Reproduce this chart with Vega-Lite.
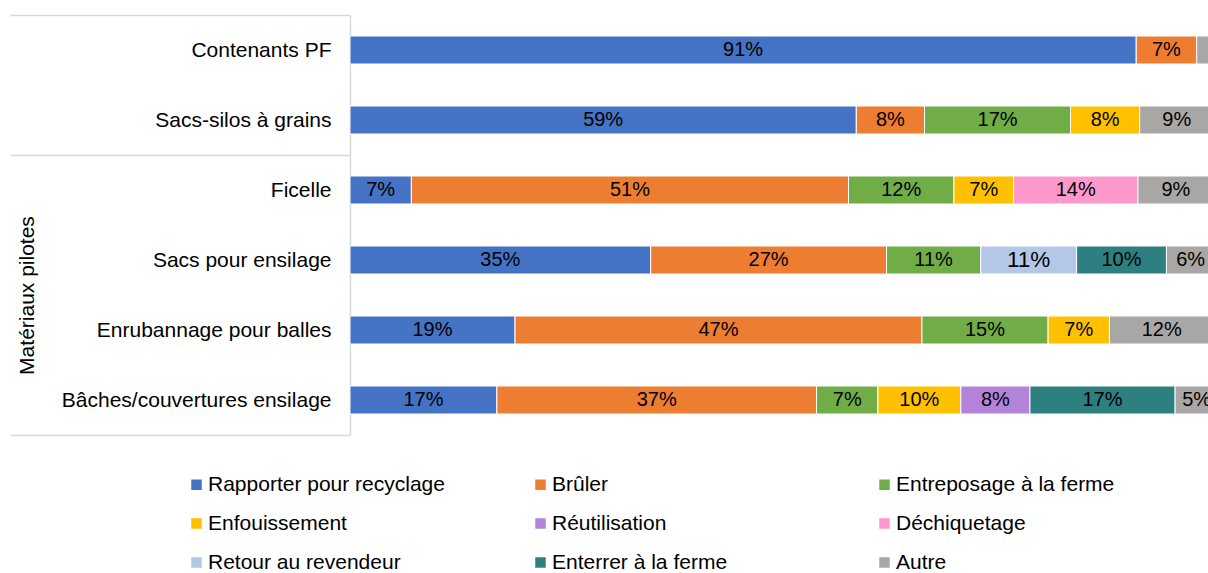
{
  "$schema": "https://vega.github.io/schema/vega-lite/v6.json",
  "autosize": {"type": "none"},
  "padding": {"left": 350, "top": 15, "right": 0, "bottom": 138},
  "width": 858,
  "height": 420,
  "config": {
    "view": {"stroke": null},
    "font": "Liberation Sans"
  },
  "data": {
    "values": [
      {"m": "Contenants PF", "c": "Rapporter pour recyclage", "o": 1, "v": 0.91},
      {"m": "Contenants PF", "c": "Brûler", "o": 2, "v": 0.07},
      {"m": "Contenants PF", "c": "Autre", "o": 9, "v": 0.02},
      {"m": "Sacs-silos à grains ", "c": "Rapporter pour recyclage", "o": 1, "v": 0.586},
      {"m": "Sacs-silos à grains ", "c": "Brûler", "o": 2, "v": 0.079},
      {"m": "Sacs-silos à grains ", "c": "Entreposage à la ferme", "o": 3, "v": 0.169},
      {"m": "Sacs-silos à grains ", "c": "Enfouissement", "o": 4, "v": 0.08},
      {"m": "Sacs-silos à grains ", "c": "Autre", "o": 9, "v": 0.086},
      {"m": "Ficelle", "c": "Rapporter pour recyclage", "o": 1, "v": 0.071},
      {"m": "Ficelle", "c": "Brûler", "o": 2, "v": 0.506},
      {"m": "Ficelle", "c": "Entreposage à la ferme", "o": 3, "v": 0.122},
      {"m": "Ficelle", "c": "Enfouissement", "o": 4, "v": 0.069},
      {"m": "Ficelle", "c": "Déchiquetage", "o": 6, "v": 0.144},
      {"m": "Ficelle", "c": "Autre", "o": 9, "v": 0.088},
      {"m": "Sacs pour ensilage", "c": "Rapporter pour recyclage", "o": 1, "v": 0.348},
      {"m": "Sacs pour ensilage", "c": "Brûler", "o": 2, "v": 0.273},
      {"m": "Sacs pour ensilage", "c": "Entreposage à la ferme", "o": 3, "v": 0.109},
      {"m": "Sacs pour ensilage", "c": "Retour au revendeur", "o": 7, "v": 0.111},
      {"m": "Sacs pour ensilage", "c": "Enterrer à la ferme", "o": 8, "v": 0.104},
      {"m": "Sacs pour ensilage", "c": "Autre", "o": 9, "v": 0.056},
      {"m": "Enrubannage pour balles", "c": "Rapporter pour recyclage", "o": 1, "v": 0.191},
      {"m": "Enrubannage pour balles", "c": "Brûler", "o": 2, "v": 0.471},
      {"m": "Enrubannage pour balles", "c": "Entreposage à la ferme", "o": 3, "v": 0.146},
      {"m": "Enrubannage pour balles", "c": "Enfouissement", "o": 4, "v": 0.071},
      {"m": "Enrubannage pour balles", "c": "Autre", "o": 9, "v": 0.121},
      {"m": "Bâches/couvertures ensilage", "c": "Rapporter pour recyclage", "o": 1, "v": 0.17},
      {"m": "Bâches/couvertures ensilage", "c": "Brûler", "o": 2, "v": 0.37},
      {"m": "Bâches/couvertures ensilage", "c": "Entreposage à la ferme", "o": 3, "v": 0.071},
      {"m": "Bâches/couvertures ensilage", "c": "Enfouissement", "o": 4, "v": 0.096},
      {"m": "Bâches/couvertures ensilage", "c": "Réutilisation", "o": 5, "v": 0.08},
      {"m": "Bâches/couvertures ensilage", "c": "Enterrer à la ferme", "o": 8, "v": 0.168},
      {"m": "Bâches/couvertures ensilage", "c": "Autre", "o": 9, "v": 0.05}
    ]
  },
  "transform": [
    {"stack": "v", "groupby": ["m"], "sort": [{"field": "o", "order": "ascending"}], "as": ["x0", "x1"]},
    {"calculate": "(datum.x0 + datum.x1) / 2", "as": "xm"}
  ],
  "encoding": {
    "y": {
      "field": "m",
      "type": "nominal",
      "sort": ["Contenants PF", "Sacs-silos à grains ", "Ficelle", "Sacs pour ensilage", "Enrubannage pour balles", "Bâches/couvertures ensilage"],
      "scale": {"paddingInner": 0, "paddingOuter": 0},
      "axis": {
        "title": "Matériaux pilotes",
        "titleX": -323,
        "titleY": 280,
        "titleAngle": -90,
        "titleAlign": "center",
        "titleBaseline": "middle",
        "titleFontSize": 21,
        "titleFontWeight": "normal",
        "titleColor": "#000000",
        "titleFont": "Liberation Sans",
        "domain": true,
        "domainColor": "#d9d9d9",
        "domainWidth": 1.5,
        "ticks": true,
        "tickBand": "extent",
        "tickSize": 340,
        "tickWidth": 1.5,
        "tickColor": {
          "condition": {"test": "datum.value === 'Sacs-silos à grains ' || datum.value === 'Bâches/couvertures ensilage' || datum.extra", "value": "#d9d9d9"},
          "value": "rgba(0,0,0,0)"
        },
        "labelPadding": -321,
        "labelFontSize": 21,
        "labelFont": "Liberation Sans",
        "labelColor": "#000000",
        "labelLimit": 400,
        "grid": false
      }
    }
  },
  "layer": [
    {
      "mark": {"type": "bar", "height": {"band": 0.4}, "stroke": "#ffffff", "strokeWidth": 1, "clip": true},
      "encoding": {
        "x": {"field": "x0", "type": "quantitative", "scale": {"domain": [0, 0.9931], "nice": false, "zero": true}, "axis": null},
        "x2": {"field": "x1"},
        "color": {
          "field": "c",
          "type": "nominal",
          "scale": {
            "domain": ["Rapporter pour recyclage", "Brûler", "Entreposage à la ferme", "Enfouissement", "Réutilisation", "Déchiquetage", "Retour au revendeur", "Enterrer à la ferme", "Autre"],
            "range": ["#4472C4", "#ED7D31", "#70AD47", "#FFC000", "#B383D9", "#FF99CC", "#B4C7E7", "#2E7F80", "#A9A6A6"]
          },
          "legend": {
            "orient": "none",
            "direction": "horizontal",
            "legendX": -164,
            "legendY": 459,
            "columns": 3,
            "gridAlign": "all",
            "columnPadding": 85,
            "rowPadding": 17,
            "symbolType": "square",
            "symbolSize": 110,
            "symbolStrokeWidth": 0,
            "symbolOffset": 0,
            "labelOffset": 1,
            "labelFontSize": 21,
            "labelFont": "Liberation Sans",
            "labelColor": "#000000",
            "labelLimit": 400,
            "title": null,
            "padding": 0
          }
        }
      }
    },
    {
      "transform": [{"filter": "datum.v >= 0.04"}],
      "mark": {"type": "text", "align": "center", "baseline": "middle", "color": "#000000", "font": "Liberation Sans", "clip": true},
      "encoding": {
        "x": {"field": "xm", "type": "quantitative"},
        "text": {"field": "v", "type": "quantitative", "format": ".0%"},
        "size": {
          "condition": {"test": "datum.c === 'Retour au revendeur'", "value": 22.5},
          "value": 20
        }
      }
    }
  ]
}
